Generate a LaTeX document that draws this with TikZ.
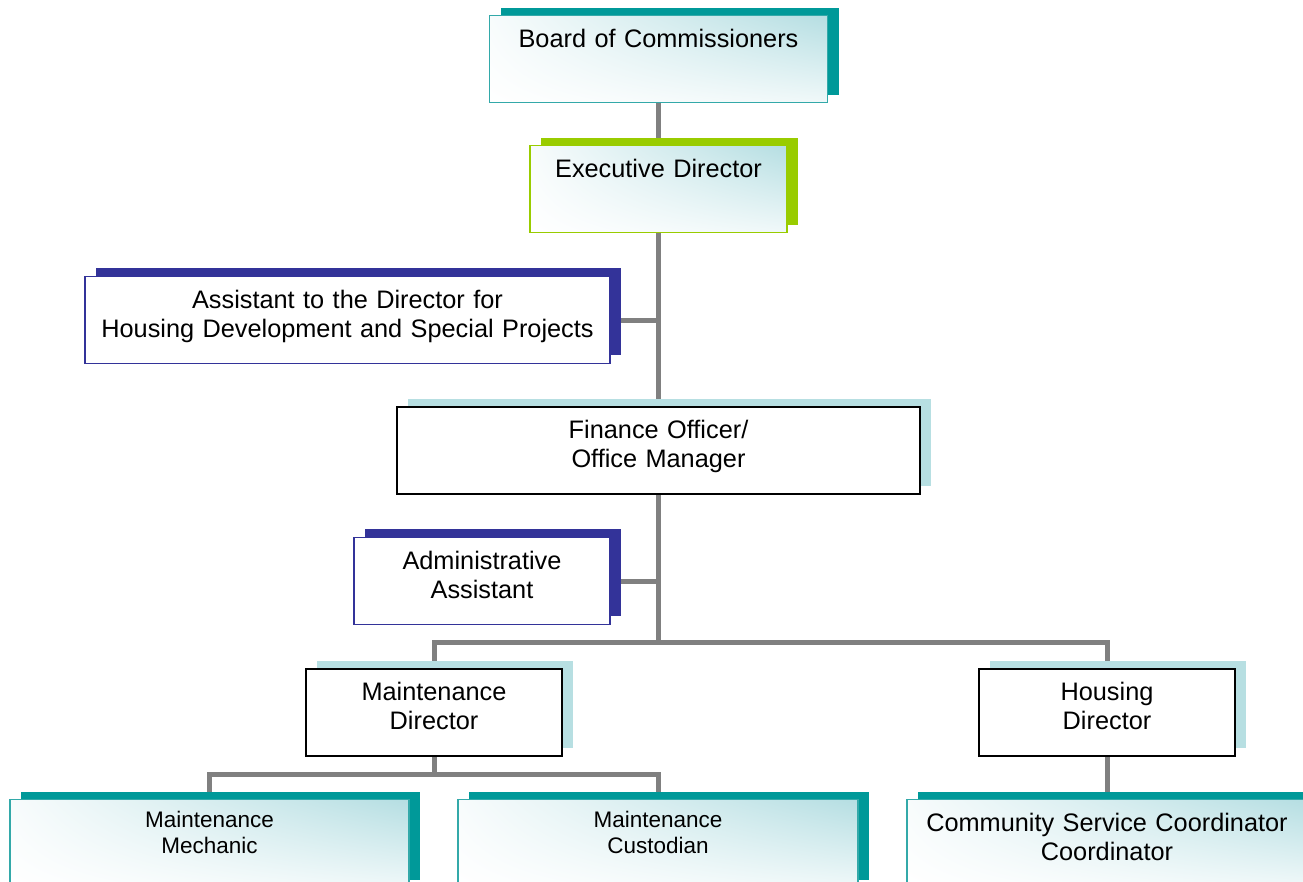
\documentclass[tikz,border=0pt]{standalone}
\usepackage{fontspec}
\setmainfont{Liberation Sans}
\usetikzlibrary{shadows,shadings,backgrounds}

\definecolor{tealdark}{HTML}{009999}
\definecolor{tealedge}{HTML}{33A9A9}
\definecolor{limegreen}{HTML}{99CC00}
\definecolor{navyblue}{HTML}{333399}
\definecolor{paleblue}{HTML}{B7DFE2}
\definecolor{glowblue}{HTML}{B5DEE2}
\definecolor{linkgray}{HTML}{808080}

\tikzset{
  orgbox/.style={rectangle, inner sep=0pt, anchor=north, text width=#1, align=center,
    text height=6.4mm, text depth=11mm, font=\fontsize{14.4}{16.5}\selectfont},
  glow/.style={shading=bilinear interpolation, upper right=glowblue, upper left=glowblue!10,
    lower left=white, lower right=glowblue!20},
  tealpost/.style={orgbox=#1, glow, draw=tealedge, line width=0.8pt,
    general shadow={fill=tealdark, shadow xshift=2.2mm, shadow yshift=1.6mm}},
  limepost/.style={orgbox=#1, glow, draw=limegreen, line width=0.8pt,
    general shadow={fill=limegreen, shadow xshift=2.2mm, shadow yshift=1.6mm}},
  navypost/.style={orgbox=#1, fill=white, draw=navyblue, line width=0.6pt,
    general shadow={fill=navyblue, shadow xshift=2.2mm, shadow yshift=1.8mm}},
  plainpost/.style={orgbox=#1, fill=white, draw=black, line width=1.1pt,
    general shadow={fill=paleblue, shadow xshift=2.2mm, shadow yshift=1.6mm}},
  smalltext/.style={font=\fontsize{12.8}{14.8}\selectfont, text height=5.6mm, text depth=12mm},
  link/.style={draw=linkgray, line width=1mm}
}

\begin{document}
\begin{tikzpicture}[x=0.2mm, y=-0.2mm]
  \useasboundingbox (0,0) rectangle (1303,882);
  \clip (0,0) rectangle (1303,882);

  % top of the chart
  \node[tealpost=67.6mm] (board) at (658.5,15) {Board of Commissioners};
  \node[limepost=51.4mm] (exec) at (658.5,145) {Executive Director};
  \node[navypost=105mm] (assist) at (347.5,276) {Assistant to the Director for\\Housing Development and Special Projects};

  % office staff
  \node[plainpost=104.6mm] (finance) at (658.5,406) {Finance Officer/\\Office Manager};
  \node[navypost=51.2mm] (admin) at (482,537) {Administrative\\Assistant};

  % the two directors
  \node[plainpost=51.2mm] (maintdir) at (434,668) {Maintenance\\Director};
  \node[plainpost=51.2mm] (housedir) at (1107,668) {Housing\\Director};

  % bottom row, runs off the page
  \node[tealpost=79.8mm, smalltext] (mechanic) at (209.5,799) {Maintenance\\Mechanic};
  \node[tealpost=80mm, smalltext] (custodian) at (658,799) {Maintenance\\Custodian};
  \node[tealpost=80mm] (community) at (1107,799) {Community Service Coordinator\\Coordinator};

  \coordinate (split) at (658.5,643);
  \coordinate (crew) at (434,775);

  % connectors go under the boxes
  \begin{scope}[on background layer]
    \draw[link] (board) -- (exec);
    \draw[link] (exec) -- (finance);
    \draw[link] (assist.east) -- (assist.east -| exec.south);
    \draw[link] (admin.east) -- (admin.east -| finance.south);
    \draw[link] (finance) -- (split);
    \draw[link] (maintdir.north) |- (split) -| (housedir.north);
    \draw[link] (maintdir) -- (crew);
    \draw[link] (mechanic.north) |- (crew) -| (custodian.north);
    \draw[link] (housedir) -- (community);
  \end{scope}
\end{tikzpicture}
\end{document}
